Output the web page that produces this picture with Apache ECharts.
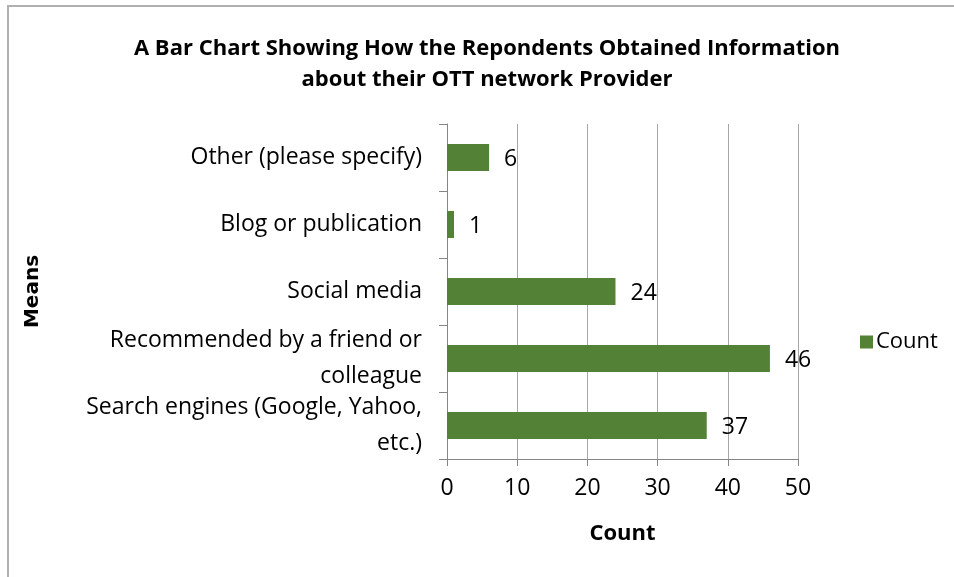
<!DOCTYPE html>
<html>
<head>
<meta charset="utf-8">
<script src="https://cdn.jsdelivr.net/npm/echarts@6/dist/echarts.min.js"></script>
<style>
html,body{margin:0;padding:0;background:#fff;}
#chart{width:954px;height:577px;}
</style>
</head>
<body>
<div id="chart"></div>
<script>
const categories = ['Search engines (Google, Yahoo,\netc.)', 'Recommended by a friend or\ncolleague', 'Social media', 'Blog or publication', 'Other (please specify)'];
const counts = [37, 46, 24, 1, 6];
const xTicks = [0, 10, 20, 30, 40, 50];
const seriesName = 'Count';
const titleText = 'A Bar Chart Showing How the Repondents Obtained Information\nabout their OTT network Provider';

const FONT = 'Open Sans';
const chart = echarts.init(document.getElementById('chart'));
chart.setOption({
  animation: false,
  backgroundColor: '#ffffff',
  title: {
    text: titleText,
    left: 482, top: 28, textAlign: 'center',
    textStyle: {fontFamily: FONT, fontWeight: 'bold', fontSize: 22, color: '#000', lineHeight: 31}
  },
  legend: {
    data: [seriesName],
    left: 855, top: 326,
    itemWidth: 13, itemHeight: 13, itemGap: 4,
    icon: 'rect',
    textStyle: {fontFamily: FONT, fontSize: 22, color: '#000', padding: [0,0,0,-2]}
  },
  grid: {left: 447, right: 156, top: 124, bottom: 118, containLabel: false},
  xAxis: {
    type: 'value', min: xTicks[0], max: xTicks[xTicks.length-1], interval: 10,
    name: 'Count', nameLocation: 'middle', nameGap: 64,
    nameTextStyle: {fontFamily: FONT, fontWeight: 'bold', fontSize: 22, color: '#000'},
    axisLine: {show: true, lineStyle: {color: '#868686', width: 1}},
    axisTick: {show: true, length: 7, lineStyle: {color: '#868686'}},
    axisLabel: {fontFamily: FONT, fontSize: 23, color: '#000', margin: 18},
    splitLine: {show: true, lineStyle: {color: '#a6a6a6', width: 1}}
  },
  yAxis: {
    type: 'category', data: categories,
    name: 'Means', nameLocation: 'middle', nameGap: 404, nameRotate: 90,
    nameTextStyle: {fontFamily: 'DejaVu Sans', fontWeight: 'bold', fontSize: 20, color: '#000'},
    axisLine: {show: true, lineStyle: {color: '#868686', width: 1}},
    axisTick: {show: true, length: 8, lineStyle: {color: '#868686'}},
    axisLabel: {interval: 0, fontFamily: FONT, fontSize: 23, color: '#000', margin: 25, lineHeight: 36, align: 'right'},
    splitLine: {show: false}
  },
  series: [{
    name: seriesName, type: 'bar', data: counts,
    barWidth: 27,
    itemStyle: {color: '#538135'},
    label: {show: true, position: 'right', distance: 15, fontFamily: FONT, fontSize: 23, color: '#000', offset: [0, 2]}
  }],
  graphic: [{
    type: 'rect', shape: {x: 8, y: 6, width: 1000, height: 700},
    style: {fill: 'none', stroke: '#b0b0b0', lineWidth: 2}, silent: true
  }]
});
</script>
</body>
</html>
